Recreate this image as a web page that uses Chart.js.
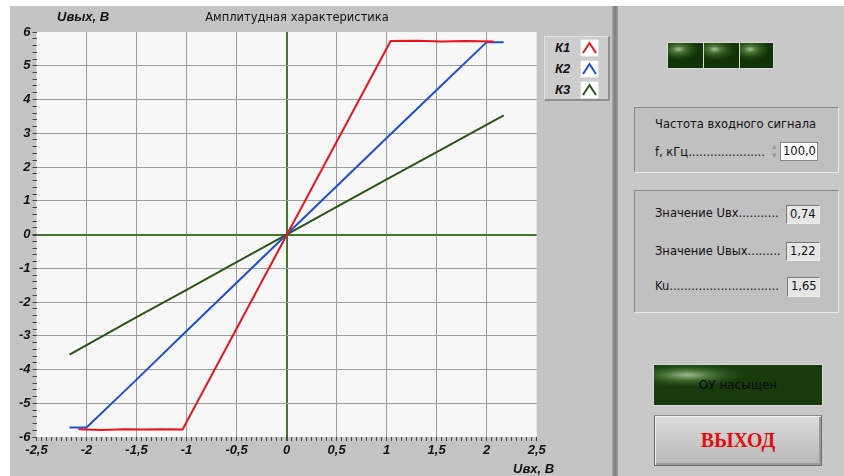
<!DOCTYPE html>
<html>
<head>
<meta charset="utf-8">
<script src="https://cdn.jsdelivr.net/npm/chart.js@4.4.1/dist/chart.umd.min.js"></script>
<style>
  body { margin: 0; width: 844px; height: 476px; background: #fff; position: relative; overflow: hidden; font-family: "DejaVu Sans", sans-serif; }
  .abs { position: absolute; }
  #leftPanel { left: 10px; top: 6px; width: 602px; height: 470px; background: #c4c4c4; }
  #sep { left: 612px; top: 6px; width: 6px; height: 470px; background: linear-gradient(to right, #a8a8a8, #7c7c7c 50%, #a0a0a0); }
  #rightPanel { left: 618px; top: 6px; width: 226px; height: 470px; background: #c8c8c8; }
  #chartBox { left: 10px; top: 6px; width: 600px; height: 470px; }
  .axname { font: italic bold 13px "Liberation Sans", sans-serif; color: #111; }
  #title { left: 200px; top: 10px; width: 194px; text-align: center; font-size: 11.5px; color: #111; }
  #legend { left: 544px; top: 36px; width: 63px; height: 62px; background: #cdcdcd; border-top: 1px solid #e4e4e4; border-left: 1px solid #e4e4e4; border-right: 2px solid #8e8e8e; border-bottom: 2px solid #8e8e8e; }
  .legRow { position: absolute; left: 0; height: 20px; width: 63px; }
  .legRow span { position: absolute; left: 10px; top: 2px; font: italic bold 13px "Liberation Sans", sans-serif; color: #111; }
  .legRow svg { position: absolute; left: 35px; top: 1px; }
  .box { background: #c0c0c0; border-top: 1px solid #8a8a8a; border-left: 1px solid #8a8a8a; border-right: 1px solid #ececec; border-bottom: 1px solid #ececec; }
  .lbl { font-size: 11.5px; color: #111; white-space: nowrap; }
  .val { background: #e6e6e6; border: 1px solid #7a7a7a; border-right-color: #eee; border-bottom-color: #eee; font-size: 11.5px; color: #111; padding-left: 3px; box-sizing: border-box; line-height: 17px; }
  .led { background: radial-gradient(ellipse 60% 45% at 30% 25%, #a9c19a 0%, #4a7434 30%, #27501a 60%, #123208 100%); border: 1px solid #d8d8d8; box-sizing: border-box; }
  #btn { left: 654px; top: 415px; width: 168px; height: 51px; box-sizing: border-box; background: linear-gradient(#dcdcdc, #c6c6c6 60%, #b8b8b8); border: 1px solid #6a6a6a; border-top-color: #8a8a8a; box-shadow: inset 1px 1px 0 #f0f0f0, inset -2px -2px 0 #9a9a9a; text-align: center; font: bold 20px "Liberation Serif", serif; line-height: 49px; color: #e01010; }
</style>
</head>
<body>
<div id="leftPanel" class="abs"></div>
<div id="sep" class="abs"></div>
<div id="rightPanel" class="abs"></div>
<div id="chartBox" class="abs"><canvas id="ampChart" width="600" height="470"></canvas></div>
<div class="abs axname" style="left:57px; top:9px;">Uвых, В</div>
<div id="title" class="abs">Амплитудная характеристика</div>
<div class="abs axname" style="left:513px; top:461px;">Uвх, В</div>
<div id="legend" class="abs"></div>

<div class="abs led" style="left:667px; top:42px; width:37px; height:27px;"></div>
<div class="abs led" style="left:703px; top:42px; width:37px; height:27px;"></div>
<div class="abs led" style="left:739px; top:42px; width:35px; height:27px;"></div>

<div class="abs box" style="left:634px; top:107px; width:203px; height:64px;"></div>
<div class="abs lbl" style="left:655px; top:117px;">Частота входного сигнала</div>
<div class="abs lbl" style="left:655px; top:145px;">f, кГц.....................</div>
<div class="abs" style="left:772px; top:142px; font-size:9px; color:#999; line-height:9px;">&#9652;<br>&#9662;</div>
<div class="abs" style="left:780px; top:142px; width:38px; height:19px; background:#fff; border:1px solid #888; box-sizing:border-box; font-size:11.5px; line-height:17px; padding-left:2px; color:#111;">100,0</div>

<div class="abs box" style="left:634px; top:190px; width:203px; height:121px;"></div>
<div class="abs lbl" style="left:655px; top:206px;">Значение Uвх...........</div>
<div class="abs val" style="left:786px; top:205px; width:34px; height:19px;">0,74</div>
<div class="abs lbl" style="left:655px; top:244px;">Значение Uвых.........</div>
<div class="abs val" style="left:786px; top:242px; width:34px; height:19px;">1,22</div>
<div class="abs lbl" style="left:655px; top:279px;">Ku..............................</div>
<div class="abs val" style="left:787px; top:277px; width:33px; height:20px;">1,65</div>

<div class="abs led" style="left:653px; top:364px; width:170px; height:42px; background: radial-gradient(ellipse 35% 30% at 20% 25%, #9fb890 0%, #3f6a2c 45%, #23481a 75%, #173b0c 100%); text-align:center; line-height:40px; font-size:12px; color:#0a0a0a;">ОУ насыщен</div>
<div id="btn" class="abs">ВЫХОД</div>

<script>
// input voltage / output voltage
var k1X = [-2.08, -1.85, -1.62, -1.45, -1.25, -1.04, 1.04, 1.3, 1.55, 1.8, 2.07];
var k1Y = [-5.77, -5.79, -5.77, -5.78, -5.77, -5.78, 5.73, 5.74, 5.72, 5.73, 5.72];

var k2X = [-2.17, -2.0, -1.5, -1.0, -0.5, 0, 0.5, 1.0, 1.5, 2.0, 2.17];
var k2Y = [-5.72, -5.72, -4.3, -2.86, -1.43, 0, 1.43, 2.86, 4.28, 5.70, 5.70];

var k3X = [-2.17, -1.5, -1.0, -0.5, 0, 0.5, 1.0, 1.5, 2.17];
var k3Y = [-3.56, -2.45, -1.64, -0.82, 0, 0.82, 1.63, 2.44, 3.53];

var seriesNames = ['К1', 'К2', 'К3'];
var seriesColors = ['#e8141c', '#1e4fd2', '#2c5418'];

var xMin = -2.5, xMax = 2.5, xMajor = 0.5, xMinor = 0.05;
var yMin = -6, yMax = 6, yMajor = 1, yMinor = 0.2;

function pts(xs, ys) {
    return xs.map(function(x, i) { return { x: x, y: ys[i] }; });
}

function isMajor(v, step) {
    var r = v / step;
    return Math.abs(r - Math.round(r)) < 1e-6;
}

function gridColor(step, lo, hi) {
    return function(ctx) {
        var v = ctx.tick ? ctx.tick.value : NaN;
        if (Math.abs(v) < 1e-9) return '#3f7a2a';
        if (Math.abs(v - lo) < 1e-9 || Math.abs(v - hi) < 1e-9) return 'rgba(0,0,0,0)';
        return isMajor(v, step) ? '#9c9c9c' : 'rgba(0,0,0,0)';
    };
}

function gridWidth(ctx) {
    var v = ctx.tick ? ctx.tick.value : NaN;
    return Math.abs(v) < 1e-9 ? 2 : 1;
}

function label(step) {
    return function(v) {
        if (!isMajor(v, step)) return '';
        var r = Math.round(v * 10) / 10;
        return String(r).replace('.', ',');
    };
}

var tickFont = { family: 'Liberation Sans', size: 13, style: 'italic', weight: 'bold' };

var plotBg = {
    id: 'plotBg',
    beforeDraw: function(chart) {
        var a = chart.chartArea, c = chart.ctx;
        c.save();
        c.fillStyle = '#f7f7f7';
        c.fillRect(a.left, a.top, a.right - a.left, a.bottom - a.top);
        c.restore();
    }
};

var datasets = [
    { label: seriesNames[0], data: pts(k1X, k1Y) },
    { label: seriesNames[1], data: pts(k2X, k2Y) },
    { label: seriesNames[2], data: pts(k3X, k3Y) }
].map(function(d, i) {
    d.borderColor = seriesColors[i];
    d.backgroundColor = seriesColors[i];
    d.borderWidth = 2;
    d.showLine = true;
    d.pointRadius = 0;
    d.tension = 0;
    return d;
});

var ctx = document.getElementById('ampChart').getContext('2d');
var chart = new Chart(ctx, {
    type: 'scatter',
    data: { datasets: datasets },
    plugins: [plotBg],
    options: {
        responsive: false,
        animation: false,
        layout: { padding: { top: 26, right: 73.3, left: 0, bottom: 0 } },
        plugins: { legend: { display: false }, tooltip: { enabled: false } },
        scales: {
            x: {
                type: 'linear', min: xMin, max: xMax,
                afterFit: function(s) { s.height = 39; },
                border: { display: false },
                grid: { color: gridColor(xMajor, xMin, xMax), lineWidth: gridWidth, tickColor: '#444', tickLength: 4 },
                ticks: { stepSize: xMinor, autoSkip: false, maxRotation: 0, minRotation: 0, maxTicksLimit: 200,
                         padding: 2, color: '#111', font: tickFont, callback: label(xMajor) }
            },
            y: {
                type: 'linear', min: yMin, max: yMax,
                afterFit: function(s) { s.width = 26.5; },
                border: { display: false },
                grid: { color: gridColor(yMajor, yMin, yMax), lineWidth: gridWidth, tickColor: '#444', tickLength: 4 },
                ticks: { stepSize: yMinor, autoSkip: false, maxTicksLimit: 200,
                         padding: 2, color: '#111', font: tickFont, callback: label(yMajor) }
            }
        }
    }
});

// legend built from the datasets
var legend = document.getElementById('legend');
datasets.forEach(function(d, i) {
    var row = document.createElement('div');
    row.className = 'legRow';
    row.style.top = (i * 21 + 1) + 'px';
    row.innerHTML = '<span>' + d.label + '</span>' +
        '<svg width="19" height="18"><rect x="0" y="0" width="19" height="18" fill="#fff" stroke="#bdbdbd"/>' +
        '<polyline points="3,14 9.5,4 16,14" fill="none" stroke="' + d.borderColor + '" stroke-width="2"/></svg>';
    legend.appendChild(row);
});
</script>
</body>
</html>
